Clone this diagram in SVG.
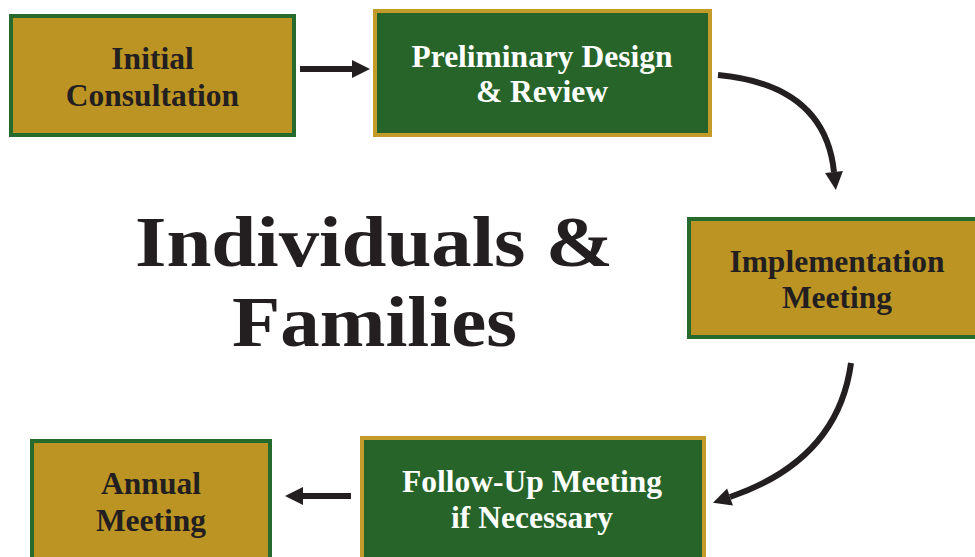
<svg xmlns="http://www.w3.org/2000/svg" width="975" height="557" viewBox="0 0 975 557">
<style>
.gold{fill:#BC9423;stroke:#276A2D;stroke-width:4}
.green{fill:#266429;stroke:#C39B28;stroke-width:4}
.t{font-family:"Liberation Serif","Times New Roman",serif;font-weight:bold;font-size:31.5px;text-anchor:middle}
.dark{fill:#231F20}
.light{fill:#FFFFFF}
.title{font-family:"Liberation Serif","Times New Roman",serif;font-weight:bold;font-size:71px;text-anchor:middle;fill:#231F20}
.conn{fill:none;stroke:#231F20;stroke-width:6}
</style>
<defs>
<marker id="ah" markerUnits="userSpaceOnUse" markerWidth="20" markerHeight="20" refX="0" refY="9" orient="auto" overflow="visible">
<path d="M0,0 L18,9 L0,18 Z" fill="#231F20"/>
</marker>
</defs>
<rect width="975" height="557" fill="#FFFFFF"/>
<g id="title">
<text class="title" x="374" y="266" textLength="478" lengthAdjust="spacingAndGlyphs">Individuals &amp;</text>
<text class="title" x="374.5" y="346" textLength="285" lengthAdjust="spacingAndGlyphs">Families</text>
</g>
<g id="connectors">
<path class="conn" d="M300,69 L352,69" marker-end="url(#ah)"/>
<path class="conn" d="M718,75 Q825,85 834,172" marker-end="url(#ah)"/>
<path class="conn" d="M851,363 Q838,460 730,497" marker-end="url(#ah)"/>
<path class="conn" d="M351,496 L303,496" marker-end="url(#ah)"/>
</g>
<g id="initial-consultation">
<rect class="gold" x="11" y="16" width="283" height="119"/>
<text class="t dark" x="152.5" y="69">Initial</text>
<text class="t dark" x="152.5" y="106">Consultation</text>
</g>
<g id="preliminary-design">
<rect class="green" x="375" y="11" width="335" height="124"/>
<text class="t light" x="542" y="67">Preliminary Design</text>
<text class="t light" x="542" y="102">&amp; Review</text>
</g>
<g id="implementation-meeting">
<rect class="gold" x="689" y="219" width="300" height="118"/>
<text class="t dark" x="837" y="272">Implementation</text>
<text class="t dark" x="837" y="308">Meeting</text>
</g>
<g id="follow-up-meeting">
<rect class="green" x="362" y="438" width="342" height="140"/>
<text class="t light" x="532" y="492">Follow-Up Meeting</text>
<text class="t light" x="532" y="528">if Necessary</text>
</g>
<g id="annual-meeting">
<rect class="gold" x="32" y="441" width="238" height="140"/>
<text class="t dark" x="151" y="494">Annual</text>
<text class="t dark" x="151" y="531">Meeting</text>
</g>
</svg>
